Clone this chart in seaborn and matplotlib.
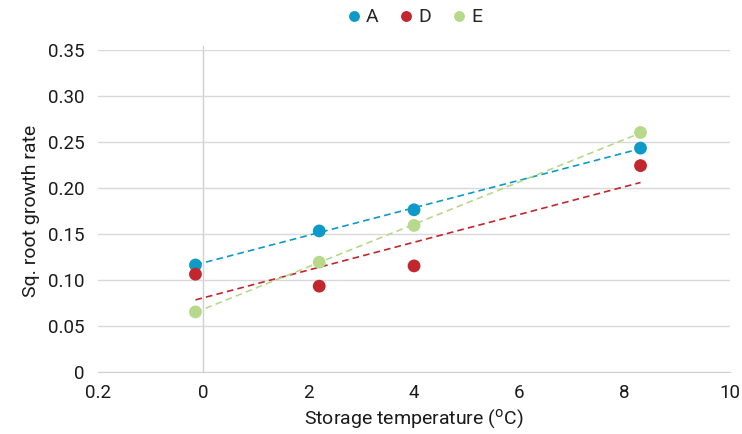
import pandas as pd
import seaborn as sns
import matplotlib.pyplot as plt

temps = [-0.15, 2.2, 4.0, 8.3]
rate_a = [0.116, 0.153, 0.176, 0.243]
rate_d = [0.106, 0.093, 0.115, 0.224]
rate_e = [0.065, 0.119, 0.159, 0.260]
series = ["A", "D", "E"]
colors = {"A": "#0e9ac8", "D": "#c1272d", "E": "#b6d98b"}
x_ticks = [-2, 0, 2, 4, 6, 8, 10]
x_labels = ["0.2", "0", "2", "4", "6", "8", "10"]
y_ticks = [0, 0.05, 0.10, 0.15, 0.20, 0.25, 0.30, 0.35]
y_labels = ["0", "0.05", "0.10", "0.15", "0.20", "0.25", "0.30", "0.35"]

df = pd.DataFrame({
    "temp": temps * 3,
    "rate": rate_a + rate_d + rate_e,
    "series": [s for s in series for _ in temps],
})

sns.set_style("white")
plt.rcParams["font.family"] = ["Roboto", "DejaVu Sans"]

fig = plt.figure(figsize=(7.42, 4.34), dpi=100)
ax = fig.add_axes([0.1321, 0.1435, 0.8518, 0.742])

# dashed linear trend lines, one per series
for s in series:
    sub = df[df["series"] == s]
    sns.regplot(data=sub, x="temp", y="rate", ax=ax, ci=None, scatter=False,
                color=colors[s], line_kws={"ls": (0, (4, 2.5)), "lw": 1.2})

sns.scatterplot(data=df, x="temp", y="rate", hue="series", palette=colors,
                s=85, edgecolor="none", ax=ax, zorder=5)

ax.set_xlim(-2, 10)
ax.set_ylim(0, 0.35)
ax.set_xticks(x_ticks)
ax.set_xticklabels(x_labels)
ax.set_yticks(y_ticks)
ax.set_yticklabels(y_labels)
ax.grid(axis="y", color="#d9d9d9", lw=1)
ax.set_axisbelow(True)
ax.axvline(0, ymax=1.01, color="#d0d0d0", lw=1, zorder=0, clip_on=False)
for sp in ["top", "right", "left"]:
    ax.spines[sp].set_visible(False)
ax.spines["bottom"].set_color("#d0d0d0")
ax.tick_params(axis="both", labelsize=13.5, colors="#d0d0d0", labelcolor="#1a1a1a",
               length=5, width=1)
ax.tick_params(axis="y", length=6)
ax.set_xlabel("Storage temperature ($^{\\mathrm{o}}$C)", fontsize=14, color="#1a1a1a",
              labelpad=4)
ax.set_ylabel("Sq. root growth rate", fontsize=14, color="#1a1a1a", labelpad=6)

ax.legend(loc="center", bbox_to_anchor=(0.5, 1.1), ncol=3, frameon=False,
          fontsize=14, handlelength=0.8, handletextpad=0.25, columnspacing=1.0,
          markerscale=0.85)

fig.savefig("out.png", dpi=100)
